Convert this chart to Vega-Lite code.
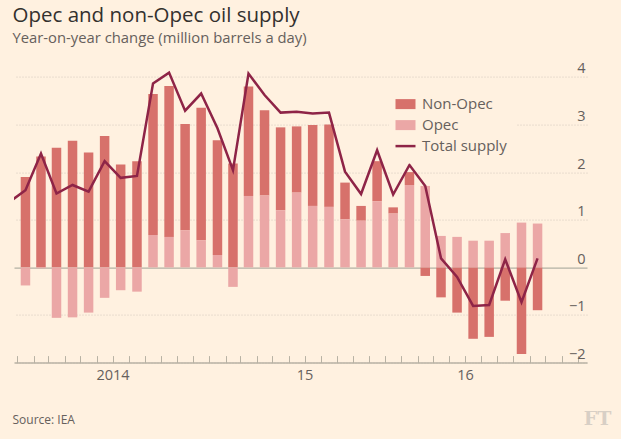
{
  "$schema": "https://vega.github.io/schema/vega-lite/v6.json",
  "width": 573,
  "height": 300,
  "autosize": "none",
  "padding": {"left": 14, "top": 62.6, "right": 34, "bottom": 76.4},
  "background": "#fff1e0",
  "title": {
    "text": "Opec and non-Opec oil supply",
    "subtitle": "Year-on-year change (million barrels a day)",
    "anchor": "start",
    "frame": "group",
    "offset": 15,
    "dx": -1.5,
    "fontSize": 20.5,
    "fontWeight": "normal",
    "color": "#33302e",
    "subtitleFontSize": 14.8,
    "subtitleColor": "#66605c",
    "subtitlePadding": 4.5
  },
  "data": {
    "values": [
      {"month": "2013-12", "Total supply": 1.37},
      {"month": "2014-01", "Non-Opec": 1.90, "Opec": -0.38, "Total supply": 1.62},
      {"month": "2014-02", "Non-Opec": 2.33, "Opec": -0.02, "Total supply": 2.39},
      {"month": "2014-03", "Non-Opec": 2.51, "Opec": -1.06, "Total supply": 1.55},
      {"month": "2014-04", "Non-Opec": 2.66, "Opec": -1.05, "Total supply": 1.73},
      {"month": "2014-05", "Non-Opec": 2.41, "Opec": -0.95, "Total supply": 1.59},
      {"month": "2014-06", "Non-Opec": 2.76, "Opec": -0.64, "Total supply": 2.23},
      {"month": "2014-07", "Non-Opec": 2.16, "Opec": -0.48, "Total supply": 1.88},
      {"month": "2014-08", "Non-Opec": 2.23, "Opec": -0.51, "Total supply": 1.92},
      {"month": "2014-09", "Non-Opec": 2.96, "Opec": 0.68, "Total supply": 3.86},
      {"month": "2014-10", "Non-Opec": 3.17, "Opec": 0.64, "Total supply": 4.09},
      {"month": "2014-11", "Non-Opec": 2.23, "Opec": 0.78, "Total supply": 3.29},
      {"month": "2014-12", "Non-Opec": 2.78, "Opec": 0.57, "Total supply": 3.65},
      {"month": "2015-01", "Non-Opec": 2.41, "Opec": 0.26, "Total supply": 2.92},
      {"month": "2015-02", "Non-Opec": 2.18, "Opec": -0.41, "Total supply": 2.04},
      {"month": "2015-03", "Non-Opec": 2.30, "Opec": 1.50, "Total supply": 4.07},
      {"month": "2015-04", "Non-Opec": 1.79, "Opec": 1.51, "Total supply": 3.62},
      {"month": "2015-05", "Non-Opec": 1.74, "Opec": 1.20, "Total supply": 3.25},
      {"month": "2015-06", "Non-Opec": 1.39, "Opec": 1.57, "Total supply": 3.27},
      {"month": "2015-07", "Non-Opec": 1.70, "Opec": 1.29, "Total supply": 3.23},
      {"month": "2015-08", "Non-Opec": 1.73, "Opec": 1.27, "Total supply": 3.25},
      {"month": "2015-09", "Non-Opec": 0.77, "Opec": 1.01, "Total supply": 2.01},
      {"month": "2015-10", "Non-Opec": 0.31, "Opec": 0.98, "Total supply": 1.54},
      {"month": "2015-11", "Non-Opec": 0.84, "Opec": 1.39, "Total supply": 2.46},
      {"month": "2015-12", "Non-Opec": 0.13, "Opec": 1.13, "Total supply": 1.53},
      {"month": "2016-01", "Non-Opec": 0.27, "Opec": 1.73, "Total supply": 2.15},
      {"month": "2016-02", "Non-Opec": -0.18, "Opec": 1.71, "Total supply": 1.71},
      {"month": "2016-03", "Non-Opec": -0.63, "Opec": 0.66, "Total supply": 0.19},
      {"month": "2016-04", "Non-Opec": -0.95, "Opec": 0.64, "Total supply": -0.20},
      {"month": "2016-05", "Non-Opec": -1.50, "Opec": 0.56, "Total supply": -0.81},
      {"month": "2016-06", "Non-Opec": -1.46, "Opec": 0.56, "Total supply": -0.79},
      {"month": "2016-07", "Non-Opec": -0.70, "Opec": 0.72, "Total supply": 0.17},
      {"month": "2016-08", "Non-Opec": -1.82, "Opec": 0.94, "Total supply": -0.73},
      {"month": "2016-09", "Non-Opec": -0.90, "Opec": 0.92, "Total supply": 0.19}
    ]
  },
  "encoding": {
    "x": {
      "field": "month",
      "type": "temporal",
      "timeUnit": "utcyearmonth",
      "bandPosition": 0.5,
      "scale": {
        "type": "utc",
        "domain": [
          {"year": 2013, "month": 12, "date": 25, "hours": 17, "utc": true},
          {"year": 2016, "month": 12, "date": 19, "utc": true}
        ]
      },
      "axis": {
        "orient": "bottom",
        "tickCount": {"interval": "month", "step": 1},
        "grid": false,
        "domainColor": "#b8b2a4",
        "domainWidth": 1.5,
        "tickColor": "#b8b2a4",
        "tickWidth": 1,
        "tickSize": -7,
        "labelExpr": "utcyear(datum.value) == 2014 && utcmonth(datum.value) == 6 ? '2014' : utcyear(datum.value) == 2015 && utcmonth(datum.value) == 6 ? '15' : utcyear(datum.value) == 2016 && utcmonth(datum.value) == 4 ? '16' : ''",
        "labelFontSize": 14.5,
        "labelColor": "#66605c",
        "labelBaseline": "top",
        "labelPadding": 13,
        "labelOverlap": false,
        "labelFlush": false,
        "labelBound": false,
        "title": "Source: IEA",
        "titleX": -2,
        "titleY": 57,
        "titleAlign": "left",
        "titleBaseline": "middle",
        "titleFontSize": 12,
        "titleFontWeight": "normal",
        "titleColor": "#66605c",
        "encode": {
          "ticks": {
            "update": {
              "y2": {"signal": "utcmonth(datum.value) == 0 ? -14 : -7"},
              "opacity": {"signal": "datum.value > utc(2016, 9, 1) ? 0 : 1"}
            }
          },
          "labels": {
            "update": {
              "dx": {"signal": "utcyear(datum.value) == 2016 ? 10 : 1"}
            }
          }
        }
      }
    },
    "y": {
      "field": "value",
      "type": "quantitative",
      "scale": {"domain": [-2, 4.3], "nice": false, "zero": false},
      "axis": {
        "orient": "right",
        "values": [-2, -1, 0, 1, 2, 3, 4],
        "domain": false,
        "ticks": false,
        "labelAlign": "right",
        "labelPadding": -2,
        "labelBaseline": "alphabetic",
        "labelOffset": -4,
        "labelFlush": false,
        "labelFontSize": 14.5,
        "labelColor": "#66605c",
        "grid": true,
        "gridColor": {"condition": {"test": "datum.value === 0", "value": "#9fa195"}, "value": "#d2c9bd"},
        "gridDash": {"condition": {"test": "datum.value === 0", "value": []}, "value": [1, 2]},
        "gridWidth": 1,
        "title": "FT",
        "titleAngle": 0,
        "titleX": 24,
        "titleY": 356,
        "titleAlign": "right",
        "titleBaseline": "middle",
        "titleFont": "DejaVu Serif",
        "titleFontSize": 19,
        "titleFontWeight": "bold",
        "titleColor": "#d8cfc5"
      }
    },
    "color": {
      "field": "key",
      "type": "nominal",
      "scale": {
        "domain": ["Non-Opec", "Opec", "Total supply"],
        "range": ["#d7716b", "#eba7a6", "#8e2447"]
      },
      "legend": {
        "orient": "none",
        "legendX": 375,
        "legendY": 25,
        "title": null,
        "fillColor": "#fff1e0",
        "padding": 9,
        "rowPadding": 5,
        "symbolSize": 400,
        "labelOffset": 9,
        "labelFontSize": 15,
        "labelColor": "#66605c",
        "encode": {
          "symbols": {
            "update": {
              "shape": {"signal": "datum.value == 'Total supply' ? 'stroke' : 'M-1,-0.5H1V0.5H-1Z'"},
              "fill": {"signal": "datum.value == 'Total supply' ? 'transparent' : scale('color', datum.value)"},
              "stroke": {"signal": "datum.value == 'Total supply' ? scale('color', datum.value) : 'transparent'"},
              "strokeWidth": {"signal": "datum.value == 'Total supply' ? 2.5 : 0"},
              "opacity": {"value": 1}
            }
          }
        }
      }
    }
  },
  "layer": [
    {
      "transform": [
        {"fold": ["Non-Opec", "Opec"]},
        {"filter": "isValid(datum.value)"}
      ],
      "mark": {"type": "bar", "width": 9.5},
      "encoding": {
        "order": {"field": "key", "sort": "descending"}
      }
    },
    {
      "transform": [{"fold": ["Total supply"]}],
      "mark": {"type": "line", "strokeWidth": 2.5, "clip": true, "strokeJoin": "miter"}
    }
  ],
  "config": {
    "font": "Open Sans",
    "view": {"stroke": null}
  }
}
